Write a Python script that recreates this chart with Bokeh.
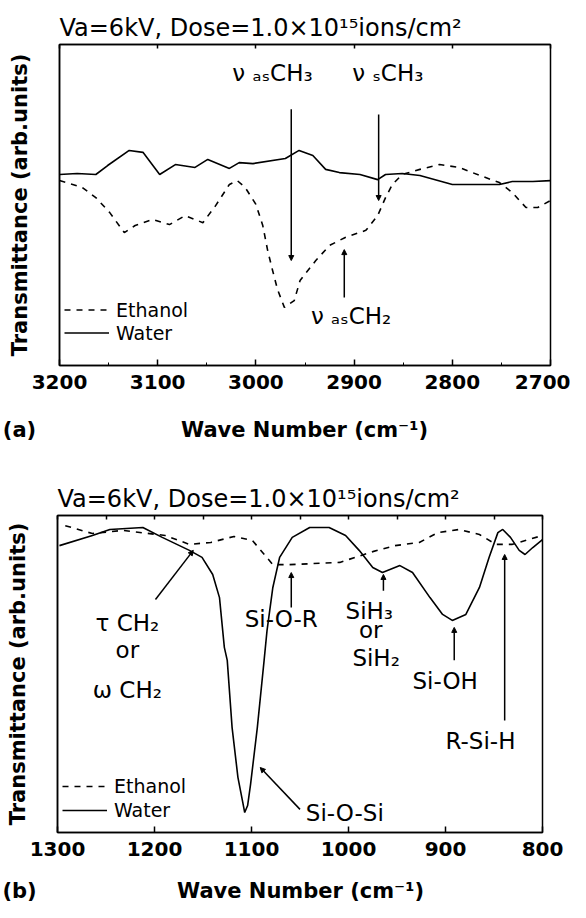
from bokeh.plotting import figure
from bokeh.models import (Range1d, LinearAxis, SingleIntervalTicker, FixedTicker, Label,
                          Arrow, NormalHead, Legend, LegendItem)
from bokeh.layouts import column
from bokeh.embed import file_html
from bokeh.resources import INLINE

TITLE = "Va=6kV, Dose=1.0×10¹⁵ions/cm²"
XLABEL = "Wave Number (cm⁻¹)"
YLABEL = "Transmittance (arb.units)"
SERIES = ["Ethanol", "Water"]
PANELS = ["(a)", "(b)"]

# ---------------- panel (a): 3200-2700 cm-1 ----------------
a_water_wn = [3200, 3182, 3163, 3151, 3129, 3115, 3098, 3082, 3062, 3049, 3027, 3017, 3003,
              2970, 2956, 2942, 2929, 2915, 2894, 2876, 2868, 2851, 2833, 2800, 2776, 2752,
              2739, 2718, 2700]
a_water_t = [59.5, 59.8, 59.5, 62.3, 67.0, 66.4, 59.5, 62.6, 61.7, 64.2, 61.4, 63.2, 62.9,
             64.5, 67.0, 65.4, 61.1, 60.1, 59.5, 57.9, 59.5, 59.8, 59.2, 56.4, 56.4, 56.4,
             57.3, 57.3, 57.6]
a_eth_wn = [3200, 3177, 3163, 3149, 3134, 3123, 3105, 3088, 3072, 3054, 3041, 3027, 3019,
            3011, 3000, 2993, 2988, 2983, 2978, 2971, 2961, 2955, 2939, 2925, 2909, 2888,
            2876, 2868, 2861, 2851, 2833, 2813, 2793, 2772, 2752, 2739, 2725, 2713, 2700]
a_eth_t = [57.6, 55.5, 52.3, 47.7, 41.4, 43.6, 45.5, 43.9, 46.7, 44.5, 49.8, 56.4, 57.6,
           55.5, 50.2, 43.6, 35.8, 29.6, 23.7, 18.1, 20.2, 26.5, 32.7, 37.4, 39.9, 42.1,
           46.7, 52.3, 56.4, 59.5, 61.1, 62.6, 61.7, 59.2, 57.0, 53.9, 49.2, 49.2, 51.4]

# annotations (a): text, x (wavenumber), y (baseline)
a_texts = ["ν ₐₛCH₃", "ν ₛCH₃", "ν ₐₛCH₂"]
a_text_wn = [3024, 2902, 2944]
a_text_t = [91.0, 91.0, 15.3]
# marker lines (a): wavenumber, start, end
a_arrow_wn = [2964, 2875, 2910]
a_arrow_t0 = [79.8, 78.2, 21.2]
a_arrow_t1 = [32.7, 51.4, 36.1]

# ---------------- panel (b): 1300-800 cm-1 ----------------
b_water_wn = [1298, 1264, 1246, 1212, 1192, 1164, 1151, 1140, 1133, 1128, 1125, 1120, 1114,
              1109, 1107, 1104, 1101, 1094, 1087, 1084, 1078, 1071, 1058, 1040, 1020, 1003,
              989, 975, 965, 947, 934, 916, 903, 893, 879, 865, 855, 846, 841, 833, 824,
              818, 810, 800]
b_water_t = [90.5, 93.7, 95.6, 96.2, 93.1, 89.0, 86.8, 81.4, 74.1, 58.4, 54.3, 33.1, 17.4,
             9.5, 6.3, 8.5, 15.1, 33.1, 54.3, 63.7, 77.3, 86.8, 93.1, 96.2, 96.2, 93.7,
             89.0, 83.6, 82.0, 84.2, 82.0, 74.1, 68.8, 66.9, 68.8, 77.3, 86.8, 94.6, 95.6,
             93.1, 89.0, 87.7, 89.9, 92.4]
b_eth_wn = [1292, 1264, 1233, 1189, 1164, 1142, 1118, 1099, 1078, 1061, 1009, 993, 975,
            952, 927, 908, 886, 865, 848, 831, 800]
b_eth_t = [96.8, 94.3, 95.3, 93.7, 90.9, 91.5, 93.4, 92.1, 84.5, 84.5, 85.2, 86.8, 88.6,
           90.5, 91.5, 94.6, 95.6, 94.0, 90.9, 90.9, 93.7]

b_texts = ["τ CH₂", "or", "ω CH₂", "Si-O-R", "SiH₃", "or", "SiH₂", "Si-OH", "R-Si-H", "Si-O-Si"]
b_text_wn = [1228, 1228, 1228, 1107, 1003, 977, 996, 934, 900, 1044]
b_text_t = [66.2, 57.7, 44.8, 67.2, 70.0, 64.0, 55.2, 47.9, 29.0, 6.3]
b_text_align = ["center", "center", "center", "left", "left", "center", "left", "left", "left", "left"]
b_arrow_wn0 = [1199, 1059, 964, 891, 839, 1050]
b_arrow_t0 = [73.5, 71.0, 76.3, 54.3, 35.3, 7.3]
b_arrow_wn1 = [1160, 1059, 964, 891, 839, 1091]
b_arrow_t1 = [89.0, 82.0, 81.4, 64.7, 87.7, 20.5]

FONT = "DejaVu Sans"
BLACK = "black"
W = 570


def base_fig(xr, height, borders, top_int, bot_minor):
    left, right, top, bottom = borders
    p = figure(width=W, height=height, x_range=Range1d(*xr), y_range=Range1d(0, 100),
               output_backend="svg", toolbar_location=None, frame_align=False,
               min_border_left=left, min_border_right=right,
               min_border_top=top, min_border_bottom=bottom)
    p.grid.visible = False
    p.outline_line_color = BLACK
    p.outline_line_width = 1.5
    p.background_fill_color = "white"
    p.border_fill_color = "white"

    p.title.text = TITLE
    p.title.text_font = FONT
    p.title.text_font_size = "24px"
    p.title.text_font_style = "normal"
    p.title.text_color = BLACK
    p.title.align = "left"
    p.title.standoff = 6

    xa = p.xaxis[0]
    xa.ticker = SingleIntervalTicker(interval=100, num_minor_ticks=2 if bot_minor else 1)
    xa.major_tick_in = 6
    xa.major_tick_out = 0
    xa.minor_tick_in = 3 if bot_minor else 0
    xa.minor_tick_out = 0
    xa.axis_line_width = 1.5
    xa.axis_line_color = BLACK
    xa.major_tick_line_color = BLACK
    xa.minor_tick_line_color = BLACK if bot_minor else None
    xa.major_tick_line_width = 1.5
    xa.major_label_text_font = FONT
    xa.major_label_text_font_style = "bold"
    xa.major_label_text_font_size = "20px"
    xa.major_label_text_color = BLACK
    xa.major_label_standoff = 9

    ya = p.yaxis[0]
    ya.ticker = FixedTicker(ticks=[])
    ya.major_label_text_font_size = "0px"
    ya.major_label_text_color = None
    ya.major_label_standoff = 0
    ya.major_tick_line_color = None
    ya.minor_tick_line_color = None
    ya.axis_line_width = 1.5
    ya.axis_line_color = BLACK
    ya.axis_label = YLABEL
    ya.axis_label_text_font = FONT
    ya.axis_label_text_font_style = "bold"
    ya.axis_label_text_font_size = "21px"
    ya.axis_label_text_color = BLACK
    ya.axis_label_standoff = 28

    top_ax = LinearAxis(ticker=SingleIntervalTicker(interval=top_int, num_minor_ticks=0),
                        major_label_text_font_size="0px", major_label_text_color=None,
                        major_label_standoff=0,
                        major_tick_in=4, major_tick_out=0, minor_tick_line_color=None,
                        major_tick_line_width=1.5, major_tick_line_color=BLACK,
                        axis_line_width=1.5, axis_line_color=BLACK)
    p.add_layout(top_ax, "above")
    return p


def label_row(height, y, tag, tag_x, label_x):
    """Row holding the panel tag and the x-axis title on one line."""
    r = figure(width=W, height=height, x_range=Range1d(0, W), y_range=Range1d(0, height),
               output_backend="svg", toolbar_location=None, frame_align=False,
               min_border=0, min_border_left=0, min_border_right=0,
               min_border_top=0, min_border_bottom=0,
               x_axis_location=None, y_axis_location=None)
    r.grid.visible = False
    r.outline_line_color = None
    r.background_fill_color = "white"
    r.border_fill_color = "white"
    for x, t in ((tag_x, tag), (label_x, XLABEL)):
        r.add_layout(Label(x=x, y=y, text=t, text_font=FONT, text_font_style="bold",
                           text_font_size="21px", text_color=BLACK,
                           text_align="center", text_baseline="middle"))
    return r


def add_series(p, wn_w, t_w, wn_e, t_e, legend_loc, step):
    eth = p.line(wn_e, t_e, line_color=BLACK, line_width=1.6, line_dash="6 6")
    wat = p.line(wn_w, t_w, line_color=BLACK, line_width=1.6)
    leg = Legend(items=[LegendItem(label=SERIES[0], renderers=[eth]),
                        LegendItem(label=SERIES[1], renderers=[wat])],
                 location=legend_loc, border_line_color=None, background_fill_alpha=0,
                 padding=0, margin=0, spacing=0, glyph_width=45, glyph_height=step,
                 label_height=step, label_standoff=7, label_text_font=FONT,
                 label_text_font_size="19px", label_text_color=BLACK)
    p.add_layout(leg)


def add_text(p, x, y, text, align="left"):
    p.add_layout(Label(x=x, y=y, text=text, text_font=FONT, text_font_size="23px",
                       text_align=align, text_baseline="alphabetic", text_color=BLACK))


def add_arrow(p, x0, y0, x1, y1):
    p.add_layout(Arrow(x_start=x0, y_start=y0, x_end=x1, y_end=y1, line_width=1.5,
                       line_color=BLACK,
                       end=NormalHead(size=5, fill_color=BLACK, line_color=BLACK,
                                      line_width=1)))


# ---- figure (a)
pa = base_fig((3200, 2700), 405, (59, 20, 44, 40), 100, True)
add_series(pa, a_water_wn, a_water_t, a_eth_wn, a_eth_t, (5, 21), 23)
for t, x, y in zip(a_texts, a_text_wn, a_text_t):
    add_text(pa, x, y, t)
for x, y0, y1 in zip(a_arrow_wn, a_arrow_t0, a_arrow_t1):
    add_arrow(pa, x, y0, x, y1)
ra = label_row(56, 32, PANELS[0], 19, 304)

# ---- figure (b)
pb = base_fig((1300, 800), 411, (57, 28, 54, 40), 50, False)
add_series(pb, b_water_wn, b_water_t, b_eth_wn, b_eth_t, (5, 10), 24)
for t, x, y, al in zip(b_texts, b_text_wn, b_text_t, b_text_align):
    add_text(pb, x, y, t, al)
for x0, y0, x1, y1 in zip(b_arrow_wn0, b_arrow_t0, b_arrow_wn1, b_arrow_t1):
    add_arrow(pb, x0, y0, x1, y1)
rb = label_row(30, 12, PANELS[1], 19, 300)

layout = column(pa, ra, pb, rb, spacing=0)
open("out.html", "w").write(file_html(layout, INLINE))
